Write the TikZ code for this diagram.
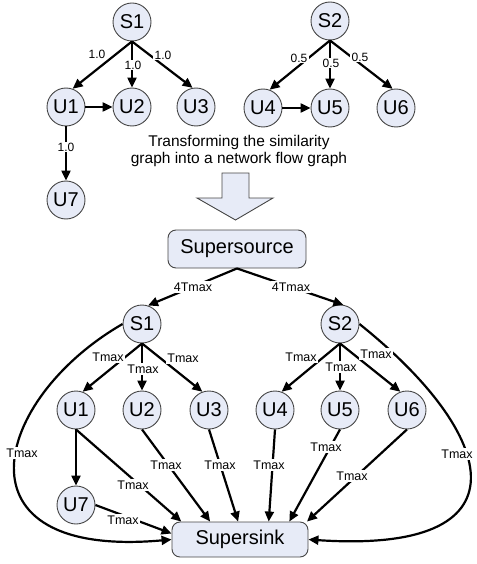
\documentclass[tikz,border=0pt]{standalone}
\usepackage{fontspec}
\setmainfont{Liberation Sans}
\usetikzlibrary{arrows.meta}
\definecolor{nodefill}{RGB}{231,235,247}
\definecolor{nodeline}{RGB}{70,70,70}
\begin{document}
\begin{tikzpicture}[x=1pt,y=-1pt,
  vert/.style={circle,draw=nodeline,line width=0.9pt,fill=nodefill,minimum size=38pt,inner sep=0pt,font=\fontsize{20}{24}\selectfont},
  bigbox/.style={rectangle,rounded corners=8pt,draw=nodeline,line width=0.9pt,fill=nodefill,inner sep=0pt,font=\fontsize{20}{24}\selectfont},
  edgelab/.style={fill=white,inner sep=1.2pt,font=\fontsize{12.5}{14}\selectfont},
  numlab/.style={fill=white,inner sep=1.2pt,font=\fontsize{12}{13}\selectfont},
  flow/.style={line width=2.2pt,-{Triangle[length=10pt,width=9pt]}},
]
\useasboundingbox (0,0) rectangle (476,564);
% ---------- top graphs ----------
\node[vert] (S1) at (132,22) {S1};
\node[vert] (U1) at (66,107) {U1};
\node[vert] (U2) at (132,107) {U2};
\node[vert] (U3) at (196,107) {U3};
\node[vert] (U7) at (66,200) {U7};
\node[vert] (S2) at (330,21) {S2};
\node[vert] (U4) at (263,108) {U4};
\node[vert] (U5) at (330,108) {U5};
\node[vert] (U6) at (396,108) {U6};

\draw[flow] (S1.south) -- (U1.70);
\draw[flow] (S1.south) -- (U2.north);
\draw[flow] (S1.south) -- (U3.100);
\draw[flow] (U1.east) -- (U2.west);
\draw[flow] (U1.south) -- (U7.north);
\draw[flow] (S2.south) -- (U4.70);
\draw[flow] (S2.south) -- (U5.north);
\draw[flow] (S2.south) -- (U6.100);
\draw[flow] (U4.east) -- (U5.west);

\node[numlab] (l1) at (97,54) {1.0};
\node[numlab] (l2) at (133,65) {1.0};
\node[numlab] (l3) at (163,55) {1.0};
\node[numlab] (l4) at (66,147) {1.0};
\node[numlab] (l5) at (299,58) {0.5};
\node[numlab] (l6) at (331,63) {0.5};
\node[numlab] (l7) at (360,57) {0.5};

% ---------- caption and block arrow ----------
\node[align=center,font=\fontsize{15.5}{17}\selectfont] (cap) at (239,151) {Transforming the similarity\\graph into a network flow graph};
\draw[draw=nodeline,line width=0.9pt,fill=nodefill]
  (222,173) -- (249,173) -- (249,198) -- (273,198) -- (235.5,220) -- (197,198) -- (222,198) -- cycle;

% ---------- flow network ----------
\node[bigbox,minimum width=138pt,minimum height=38pt] (SS) at (237,249) {Supersource};
\node[bigbox,minimum width=136pt,minimum height=35pt] (SK) at (240,539.5) {Supersink};
\node[vert] (T1) at (142,324) {S1};
\node[vert] (T2) at (340,324) {S2};
\node[vert] (V1) at (76,410) {U1};
\node[vert] (V2) at (142,410) {U2};
\node[vert] (V3) at (209,410) {U3};
\node[vert] (V7) at (76,505) {U7};
\node[vert] (V4) at (275,410) {U4};
\node[vert] (V5) at (340,410) {U5};
\node[vert] (V6) at (407,410) {U6};

\draw[flow] (SS.south) -- (T1.72);
\draw[flow] (SS.south) -- (T2.80);
\draw[flow] (T1.south) -- (V1.70);
\draw[flow] (T1.south) -- (V2.north);
\draw[flow] (T1.south) -- (V3.110);
\draw[flow] (T2.south) -- (V4.70);
\draw[flow] (T2.south) -- (V5.north);
\draw[flow] (T2.south) -- (V6.110);
\draw[flow] (V1.south) -- (V7.north);
\draw[flow] (V1.south) -- (SK.163);
\draw[flow] (V7.east) -- (SK.175);
\draw[flow] (V2.south) -- (SK.149);
\draw[flow] (V3.south) -- (SK.96);
\draw[flow] (V4.south) -- (SK.32);
\draw[flow] (V5.south) -- (SK.20);
\draw[flow] (V6.south) -- (SK.15);
\draw[flow] (T1.west) .. controls +(-130,75) and +(-222,20) .. (SK.west);
\draw[flow] (T2.east) .. controls +(140,112) and +(222,15) .. (SK.east);

\node[edgelab] (m1) at (193,287) {4Tmax};
\node[edgelab] (m2) at (291,287) {4Tmax};
\node[edgelab] (m3) at (108,357) {Tmax};
\node[edgelab] (m4) at (143,369) {Tmax};
\node[edgelab] (m5) at (183,358) {Tmax};
\node[edgelab] (m6) at (301,357) {Tmax};
\node[edgelab] (m7) at (341,367) {Tmax};
\node[edgelab] (m8) at (376,354) {Tmax};
\node[edgelab] (m9) at (22,453) {Tmax};
\node[edgelab] (m10) at (133,485) {Tmax};
\node[edgelab] (m11) at (123,520) {Tmax};
\node[edgelab] (m12) at (166,465) {Tmax};
\node[edgelab] (m13) at (220,465) {Tmax};
\node[edgelab] (m14) at (269,465) {Tmax};
\node[edgelab] (m15) at (326,447) {Tmax};
\node[edgelab] (m16) at (352,476) {Tmax};
\node[edgelab] (m17) at (457,454) {Tmax};
\end{tikzpicture}
\end{document}
